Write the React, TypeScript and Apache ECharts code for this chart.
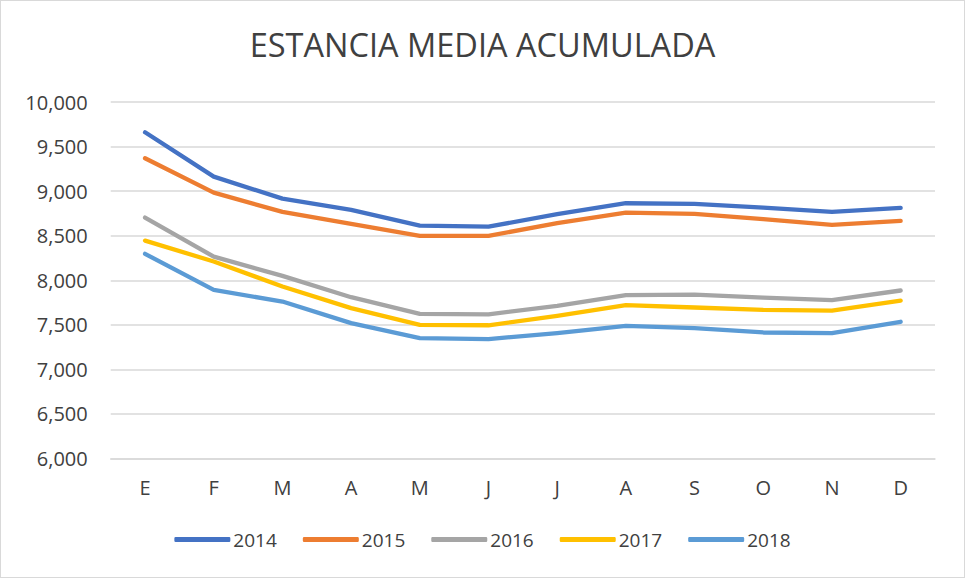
import React, { useEffect, useRef } from "react";
import * as echarts from "echarts";

const categories = ["E", "F", "M", "A", "M", "J", "J", "A", "S", "O", "N", "D"];
const yTicks = [6000, 6500, 7000, 7500, 8000, 8500, 9000, 9500, 10000];
const s2014 = [9660, 9163, 8916, 8789, 8613, 8602, 8741, 8864, 8857, 8815, 8767, 8812];
const s2015 = [9369, 8983, 8767, 8632, 8498, 8498, 8640, 8759, 8744, 8685, 8621, 8666];
const s2016 = [8703, 8265, 8049, 7810, 7623, 7618, 7713, 7833, 7838, 7806, 7777, 7885];
const s2017 = [8445, 8210, 7930, 7687, 7500, 7495, 7601, 7721, 7694, 7668, 7660, 7772];
const s2018 = [8296, 7892, 7761, 7519, 7351, 7340, 7407, 7489, 7463, 7414, 7407, 7534];
const seriesNames = ["2014", "2015", "2016", "2017", "2018"];
const seriesData = [s2014, s2015, s2016, s2017, s2018];
const colors = ["#4472C4", "#ED7D31", "#A5A5A5", "#FFC000", "#5B9BD5"];

const FONT = "'Open Sans', 'Liberation Sans', sans-serif";

export default function App() {
  const ref = useRef<HTMLDivElement>(null);
  useEffect(() => {
    document.body.style.margin = "0";
    const chart = echarts.init(ref.current!, null, { renderer: "svg" });
    chart.setOption({
      animation: false,
      backgroundColor: "#ffffff",
      color: colors,
      title: {
        text: "ESTANCIA MEDIA ACUMULADA",
        left: "center",
        top: 22,
        textStyle: {
          fontFamily: FONT,
          fontSize: 32.5,
          fontWeight: "normal",
          color: "#404040",
        },
      },
      grid: { left: 109.7, right: 29, top: 101, bottom: 118.5 },
      legend: {
        bottom: 23,
        left: "center",
        itemWidth: 56,
        itemHeight: 5,
        itemGap: 26,
        icon: "roundRect",
        textStyle: { fontFamily: FONT, fontSize: 19, color: "#404040", padding: [0, 0, 0, -2] },
        data: seriesNames,
      },
      xAxis: {
        type: "category",
        data: categories,
        boundaryGap: true,
        axisLine: { show: true, lineStyle: { color: "#d9d9d9", width: 1.5 } },
        axisTick: { show: false },
        axisLabel: { fontFamily: FONT, fontSize: 20, color: "#404040", margin: 19 },
      },
      yAxis: {
        type: "value",
        min: yTicks[0],
        max: yTicks[yTicks.length - 1],
        interval: 500,
        axisLine: { show: false },
        axisTick: { show: false },
        splitLine: { lineStyle: { color: "#d9d9d9", width: 1.5 } },
        axisLabel: {
          fontFamily: FONT,
          fontSize: 20,
          color: "#404040",
          margin: 23,
          formatter: (v: number) => v.toLocaleString("en-US"),
        },
      },
      series: seriesNames.map((name, i) => ({
        name,
        type: "line",
        data: seriesData[i],
        symbol: "none",
        lineStyle: { width: 4.3, color: colors[i], cap: "round", join: "round" },
        itemStyle: { color: colors[i] },
      })),
    });
    return () => chart.dispose();
  }, []);
  return (
    <div
      style={{
        position: "absolute",
        left: 0,
        top: 0,
        width: 965,
        height: 578,
        boxSizing: "border-box",
        border: "1px solid #d9d9d9",
      }}
    >
      <div ref={ref} style={{ width: 963, height: 576 }} />
    </div>
  );
}
